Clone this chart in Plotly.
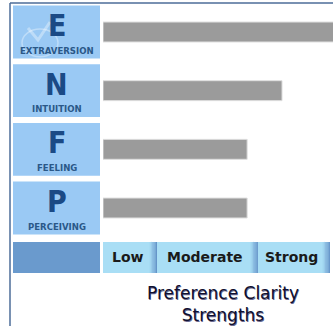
import plotly.graph_objects as go

# preference scores (same units as the clarity scale below)
letters = ["E", "N", "F", "P"]
names = ["EXTRAVERSION", "INTUITION", "FEELING", "PERCEIVING"]
scores = [31, 23.35, 18.8, 18.8]

# clarity bands along the bottom
band_names = ["Low", "Moderate", "Strong"]
band_start = [0, 7.04, 20.2]
band_end = [7.04, 20.2, 29.6]

W, H = 333, 326
rows = list(range(len(letters)))
band_y = 3.843

fig = go.Figure()

fig.add_trace(go.Bar(
    y=rows, x=scores, orientation="h", width=0.34,
    marker=dict(color="#9b9b9b", line=dict(color="#dedede", width=1)),
    hoverinfo="skip", cliponaxis=True,
))

fig.add_trace(go.Bar(
    y=[band_y] * len(band_names),
    x=[e - s for s, e in zip(band_start, band_end)],
    base=band_start, orientation="h", width=0.53,
    marker=dict(color="#a9def5", line=dict(width=0)),
    hoverinfo="skip",
))

shapes = []
# gradient at the right edge of each band
grad = ["#a2d6f0", "#98cbea", "#8cbde2", "#7eaed9", "#709fd0", "#6493c8"]
step = 0.16
for e in band_end:
    for k, c in enumerate(grad):
        x0 = e - (len(grad) - k) * step
        shapes.append(dict(type="rect", xref="x", yref="y",
                           x0=x0, x1=x0 + step,
                           y0=band_y - 0.265, y1=band_y + 0.265,
                           fillcolor=c, line=dict(width=0), layer="above"))

# left label boxes
bx0, bx1 = 13 / W, 100 / W
for i in rows:
    shapes.append(dict(type="rect", xref="paper", yref="y",
                       x0=bx0, x1=bx1, y0=i - 0.45, y1=i + 0.45,
                       fillcolor="#9ac9f4", line=dict(width=0)))
shapes.append(dict(type="rect", xref="paper", yref="y",
                   x0=bx0, x1=bx1, y0=band_y - 0.265, y1=band_y + 0.265,
                   fillcolor="#6a9acd", line=dict(width=0)))

# faint check mark watermark in the first box
shapes.append(dict(type="circle", xref="paper", yref="y",
                   x0=22 / W, x1=58 / W, y0=-0.05, y1=0.42,
                   fillcolor="rgba(255,255,255,0)",
                   line=dict(color="rgba(255,255,255,0.35)", width=1.5)))
shapes.append(dict(type="path", xref="paper", yref="paper",
                   path="M %f %f L %f %f L %f %f" % (
                       28 / W, 1 - 28 / H, 38 / W, 1 - 40 / H, 50 / W, 1 - 22 / H),
                   line=dict(color="rgba(255,255,255,0.35)", width=3)))

# frame
shapes.append(dict(type="line", xref="paper", yref="paper",
                   x0=10 / W, x1=1, y0=1 - 3 / H, y1=1 - 3 / H,
                   line=dict(color="#4d6d99", width=1.5)))
shapes.append(dict(type="line", xref="paper", yref="paper",
                   x0=10 / W, x1=10 / W, y0=0, y1=1 - 3 / H,
                   line=dict(color="#4d6d99", width=1.5)))

annotations = []
for i in rows:
    annotations.append(dict(
        text=letters[i], xref="paper", yref="y", x=56.5 / W, y=i - 0.11,
        xanchor="center", yanchor="middle", showarrow=False,
        font=dict(family="DejaVu Sans Condensed, Arial Narrow, sans-serif",
                  size=30, color="#1b4a85", weight="bold")))
    annotations.append(dict(
        text=names[i], xref="paper", yref="y", x=57 / W, y=i + 0.31,
        xanchor="center", yanchor="middle", showarrow=False,
        font=dict(family="DejaVu Sans Condensed, Arial Narrow, sans-serif",
                  size=9.5, color="#2a5888", weight="bold")))

for n, s, e in zip(band_names, band_start, band_end):
    annotations.append(dict(
        text=n, xref="x", yref="y", x=(s + e) / 2 - 0.3, y=band_y,
        xanchor="center", yanchor="middle", showarrow=False,
        font=dict(family="DejaVu Sans, Verdana, sans-serif", size=14,
                  color="#1a1a1a", weight="bold")))

annotations.append(dict(
    text="Preference Clarity<br>Strengths", xref="paper", yref="paper",
    x=223 / W, y=1 - 303.5 / H, xanchor="center", yanchor="middle",
    showarrow=False,
    font=dict(family="DejaVu Sans, Verdana, sans-serif", size=17,
              color="#101030", shadow="0.6px 0.6px 0.6px #6a6a90")))

y_top = -32 / 58.67
y_bot = (H - 32) / 58.67

fig.update_layout(
    width=W, height=H,
    margin=dict(l=0, r=0, t=0, b=0),
    paper_bgcolor="white", plot_bgcolor="white",
    showlegend=False, barmode="overlay",
    xaxis=dict(domain=[103 / W, 1], range=[0, 30], visible=False, fixedrange=True),
    yaxis=dict(range=[y_bot, y_top], visible=False, fixedrange=True),
    shapes=shapes, annotations=annotations,
)

fig.write_html("out.html", config={"displayModeBar": False},
               post_script="document.body.style.margin='0';")
